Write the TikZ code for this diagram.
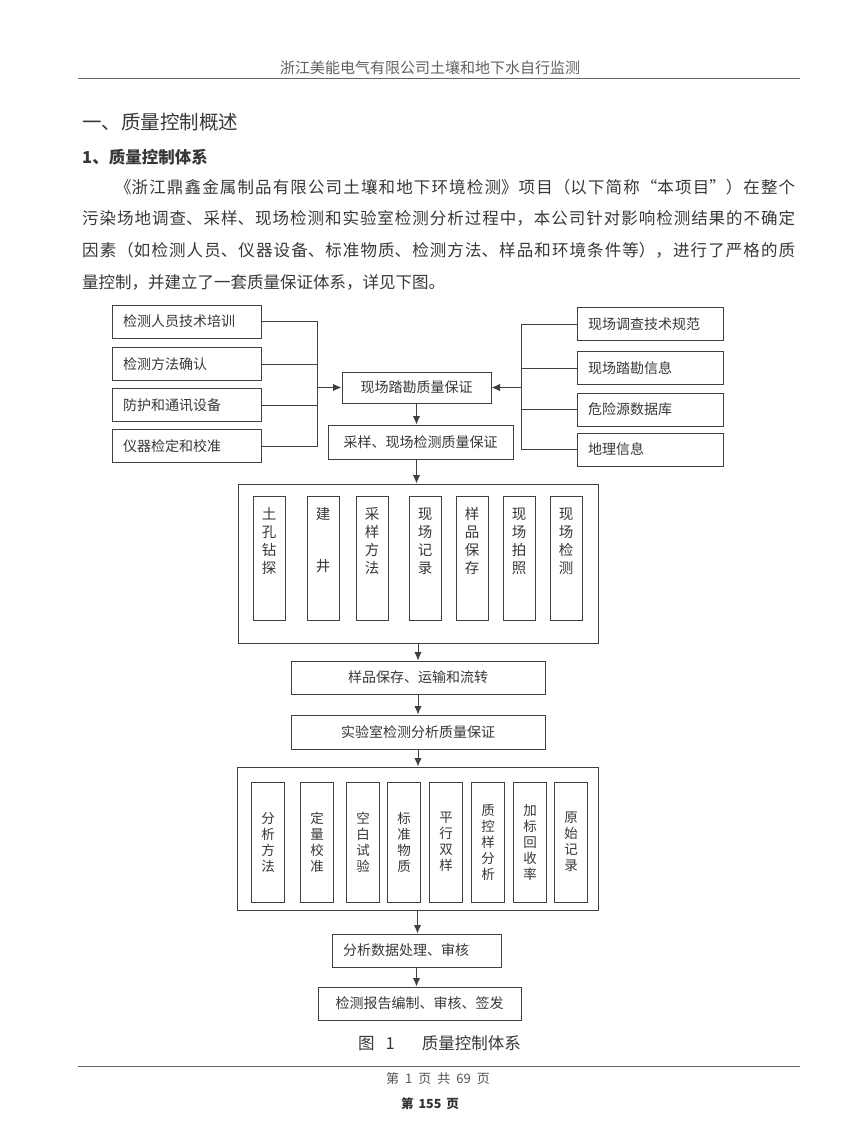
\documentclass[tikz,border=0pt]{standalone}
\usepackage{fontspec}
\newfontfamily\cjk{Noto Sans CJK SC}
\usetikzlibrary{arrows.meta}
\XeTeXlinebreaklocale "zh"
\XeTeXlinebreakskip=0pt plus 2pt minus 0.5pt
\newcommand\fullline[2][0pt]{\parbox{713pt}{\parfillskip=0pt\tolerance=10000\hspace*{#1}#2\par}}
\begin{document}
\begin{tikzpicture}[x=1pt,y=-1pt,font=\cjk\fontsize{14}{17}\selectfont,text=black!78,
 box/.style={draw=black!75,line width=1pt,minimum height=33,inner sep=0pt},
 lbox/.style={box,minimum width=149,text width=127,align=left},
 rbox/.style={box,minimum width=146,text width=124,align=left},
 sbox/.style={box,anchor=north,text width=32,align=center,text height=22.5,text depth=101.5,font=\cjk\fontsize{14.5}{18.3}\selectfont},
 dbox/.style={box,minimum width=33,minimum height=120,text width=33,align=center,font=\cjk\fontsize{13.5}{16}\selectfont},
 ln/.style={draw=black!75,line width=1pt},
 arr/.style={ln,-{Latex[length=8.5pt,width=7.5pt]}}]
 \useasboundingbox[fill=white] (0,0) rectangle (860,1147);
 \node[text=black!62,font=\cjk\fontsize{15}{18}\selectfont] (head) at (430,68) {浙江美能电气有限公司土壤和地下水自行监测};
 \draw[black!60,line width=1pt] (78,79)--(800,79); \draw[black!60,line width=1pt] (78,1066)--(800,1066);
 \node[anchor=west,inner sep=0,font=\cjk\fontsize{19.5}{22}\selectfont] (tit) at (82,122) {一、质量控制概述};
 \node[anchor=west,inner sep=0,font=\cjk\bfseries\fontsize{16.5}{20}\selectfont] (sub) at (82,157) {1、质量控制体系};
 \node[anchor=west,inner sep=0,font=\cjk\fontsize{16.5}{20}\selectfont] (p1) at (82,187) {\fullline[33pt]{《浙江鼎鑫金属制品有限公司土壤和地下环境检测》项目（以下简称“本项目”）在整个}};
 \node[anchor=west,inner sep=0,font=\cjk\fontsize{16.5}{20}\selectfont] (p2) at (82,218) {\fullline{污染场地调查、采样、现场检测和实验室检测分析过程中，本公司针对影响检测结果的不确定}};
 \node[anchor=west,inner sep=0,font=\cjk\fontsize{16.5}{20}\selectfont] (p3) at (82,250) {\fullline{因素（如检测人员、仪器设备、标准物质、检测方法、样品和环境条件等），进行了严格的质}};
 \node[anchor=west,inner sep=0,font=\cjk\fontsize{16.5}{20}\selectfont] (p4) at (82,282) {量控制，并建立了一套质量保证体系，详见下图。};
 \node[lbox] (l1) at (186.5,321.5) {检测人员技术培训}; \node[lbox] (l2) at (186.5,364) {检测方法确认};
 \node[lbox] (l3) at (186.5,405) {防护和通讯设备}; \node[lbox] (l4) at (186.5,446) {仪器检定和校准};
 \node[rbox] (r1) at (650,324) {现场调查技术规范}; \node[rbox] (r2) at (650,368) {现场踏勘信息};
 \node[rbox] (r3) at (650,409.5) {危险源数据库}; \node[rbox] (r4) at (650,449.5) {地理信息};
 \node[box,minimum width=149,minimum height=31] (kc) at (416.5,387.5) {现场踏勘质量保证};
 \node[box,minimum width=185,minimum height=34] (cy) at (420.5,442) {采样、现场检测质量保证};
 \coordinate (lb) at (317,387.5); \coordinate (rb) at (521,387.5);
 \draw[ln] (l1.east)--(l1.east-|lb)--(l4.east-|lb)--(l4.east); \draw[ln] (l2.east)--(l2.east-|lb); \draw[ln] (l3.east)--(l3.east-|lb);
 \draw[ln] (r1.west)--(r1.west-|rb)--(r4.west-|rb)--(r4.west); \draw[ln] (r2.west)--(r2.west-|rb); \draw[ln] (r3.west)--(r3.west-|rb);
 \draw[arr] (lb)--(kc.west); \draw[arr] (rb)--(kc.east);
 \node[box,minimum width=360,minimum height=159] (bk1) at (418,563.5) {};
 \draw[arr] (kc.south)--(kc.south|-cy.north); \draw[arr] (kc.south|-cy.south)--(kc.south|-bk1.north);
 \node[sbox] (s1) at (269,496) {土\\孔\\钻\\探}; \node[sbox] (s2) at (323,496) {建\\[34pt]井};
 \node[sbox] (s3) at (372,496) {采\\样\\方\\法}; \node[sbox] (s4) at (425,496) {现\\场\\记\\录};
 \node[sbox] (s5) at (472,496) {样\\品\\保\\存}; \node[sbox] (s6) at (519,496) {现\\场\\拍\\照};
 \node[sbox] (s7) at (566,496) {现\\场\\检\\测};
 \node[box,minimum width=254] (yp) at (418,677.5) {样品保存、运输和流转};
 \node[box,minimum width=254,minimum height=34] (sy) at (418,732) {实验室检测分析质量保证};
 \node[box,minimum width=361,minimum height=143] (bk2) at (417.5,838.5) {};
 \draw[arr] (bk1)--(yp); \draw[arr] (yp)--(sy); \draw[arr] (sy.south)--(sy.south|-bk2.north);
 \node[dbox] (d1) at (268,842) {分\\析\\方\\法}; \node[dbox] (d2) at (317,842) {定\\量\\校\\准};
 \node[dbox] (d3) at (363,842) {空\\白\\试\\验}; \node[dbox] (d4) at (404,842) {标\\准\\物\\质};
 \node[dbox] (d5) at (446,842) {平\\行\\双\\样}; \node[dbox] (d6) at (488,842) {质\\控\\样\\分\\析};
 \node[dbox] (d7) at (530,842) {加\\标\\回\\收\\率}; \node[dbox] (d8) at (571,842) {原\\始\\记\\录};
 \node[box,minimum width=169,text width=147,align=left] (sj) at (416.5,950.5) {分析数据处理、审核};
 \node[box,minimum width=203] (bg) at (419.5,1003.5) {检测报告编制、审核、签发};
 \draw[arr] (bk2.south)--(bk2.south|-sj.north); \draw[arr] (sj)--(sj|-bg.north);
 \node[anchor=west,inner sep=0,font=\cjk\fontsize{16.5}{20}\selectfont] (cap) at (358,1043) {图\hspace{11pt}1\hspace{27pt}质量控制体系};
 \node[text=black!68,font=\cjk\fontsize{13}{16}\selectfont] (pg) at (438,1079) {第\hspace{6pt}1\hspace{6pt}页\hspace{6pt}共\hspace{6pt}69\hspace{6pt}页};
 \node[text=black!80,font=\cjk\bfseries\fontsize{12.5}{15}\selectfont] (pgt) at (430,1104) {第\hspace{5pt}155\hspace{5pt}页};
\end{tikzpicture}
\end{document}
